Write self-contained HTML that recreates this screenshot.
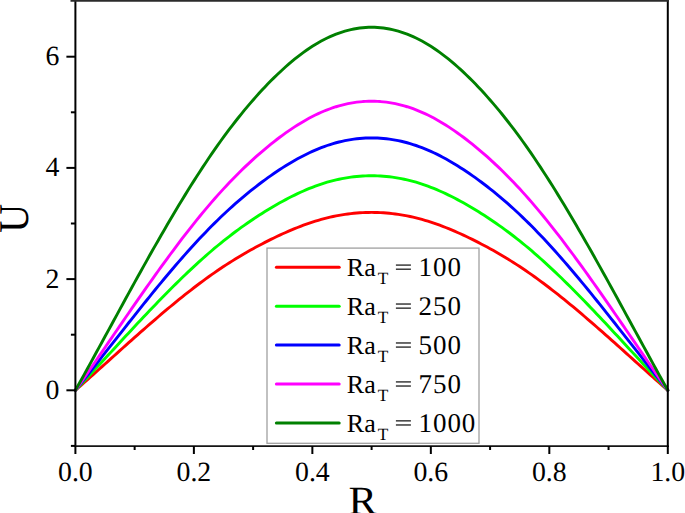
<!DOCTYPE html><html><head><meta charset="utf-8"><style>html,body{margin:0;padding:0;background:#fff;width:685px;height:513px;overflow:hidden}svg{display:block}text{font-family:"Liberation Serif",serif;fill:#000;text-rendering:geometricPrecision}</style></head><body>
<svg width="685" height="513" viewBox="0 0 685 513">
<polyline points="75.40,390.30 78.36,387.71 81.32,385.10 84.29,382.48 87.25,379.86 90.21,377.22 93.17,374.58 96.13,371.93 99.10,369.28 102.06,366.62 105.02,363.96 107.98,361.30 110.94,358.64 113.91,355.98 116.87,353.32 119.83,350.66 122.79,348.00 125.75,345.35 128.72,342.70 131.68,340.06 134.64,337.43 137.60,334.80 140.56,332.19 143.53,329.58 146.49,326.99 149.45,324.41 152.41,321.84 155.37,319.28 158.34,316.74 161.30,314.21 164.26,311.70 167.22,309.21 170.18,306.74 173.15,304.29 176.11,301.85 179.07,299.44 182.03,297.06 184.99,294.69 187.96,292.35 190.92,290.04 193.88,287.76 196.84,285.50 199.80,283.27 202.77,281.07 205.73,278.90 208.69,276.77 211.65,274.66 214.61,272.59 217.58,270.55 220.54,268.55 223.50,266.58 226.46,264.64 229.42,262.74 232.39,260.87 235.35,259.03 238.31,257.23 241.27,255.46 244.23,253.72 247.20,252.02 250.16,250.34 253.12,248.69 256.08,247.08 259.04,245.49 262.01,243.92 264.97,242.39 267.93,240.89 270.89,239.41 273.85,237.96 276.82,236.54 279.78,235.15 282.74,233.79 285.70,232.46 288.66,231.16 291.63,229.90 294.59,228.67 297.55,227.48 300.51,226.32 303.47,225.21 306.44,224.14 309.40,223.11 312.36,222.12 315.32,221.18 318.28,220.28 321.25,219.44 324.21,218.63 327.17,217.88 330.13,217.18 333.09,216.52 336.06,215.91 339.02,215.35 341.98,214.84 344.94,214.38 347.90,213.97 350.87,213.61 353.83,213.29 356.79,213.03 359.75,212.81 362.71,212.64 365.68,212.51 368.64,212.44 371.60,212.41 374.56,212.44 377.52,212.51 380.49,212.64 383.45,212.81 386.41,213.03 389.37,213.29 392.33,213.61 395.30,213.97 398.26,214.38 401.22,214.84 404.18,215.35 407.14,215.91 410.11,216.52 413.07,217.18 416.03,217.88 418.99,218.63 421.95,219.44 424.92,220.28 427.88,221.18 430.84,222.12 433.80,223.11 436.76,224.14 439.73,225.21 442.69,226.32 445.65,227.48 448.61,228.67 451.57,229.90 454.54,231.16 457.50,232.46 460.46,233.79 463.42,235.15 466.38,236.54 469.35,237.96 472.31,239.41 475.27,240.89 478.23,242.39 481.19,243.92 484.16,245.49 487.12,247.08 490.08,248.69 493.04,250.34 496.00,252.02 498.97,253.72 501.93,255.46 504.89,257.23 507.85,259.03 510.81,260.87 513.78,262.74 516.74,264.64 519.70,266.58 522.66,268.55 525.62,270.55 528.59,272.59 531.55,274.66 534.51,276.77 537.47,278.90 540.43,281.07 543.40,283.27 546.36,285.50 549.32,287.76 552.28,290.04 555.24,292.35 558.21,294.69 561.17,297.06 564.13,299.44 567.09,301.85 570.05,304.29 573.02,306.74 575.98,309.21 578.94,311.70 581.90,314.21 584.86,316.74 587.83,319.28 590.79,321.84 593.75,324.41 596.71,326.99 599.67,329.58 602.64,332.19 605.60,334.80 608.56,337.43 611.52,340.06 614.48,342.70 617.45,345.35 620.41,348.00 623.37,350.66 626.33,353.32 629.29,355.98 632.26,358.64 635.22,361.30 638.18,363.96 641.14,366.62 644.10,369.28 647.07,371.93 650.03,374.58 652.99,377.22 655.95,379.86 658.91,382.48 661.88,385.10 664.84,387.71 667.80,390.30" fill="none" stroke="#ff0000" stroke-width="2.9" stroke-linejoin="round" stroke-linecap="round"/>
<polyline points="75.40,390.30 78.36,387.17 81.32,384.03 84.29,380.87 87.25,377.70 90.21,374.53 93.17,371.34 96.13,368.14 99.10,364.94 102.06,361.74 105.02,358.53 107.98,355.32 110.94,352.11 113.91,348.90 116.87,345.69 119.83,342.48 122.79,339.28 125.75,336.08 128.72,332.89 131.68,329.70 134.64,326.52 137.60,323.36 140.56,320.20 143.53,317.06 146.49,313.93 149.45,310.81 152.41,307.71 155.37,304.63 158.34,301.56 161.30,298.52 164.26,295.49 167.22,292.48 170.18,289.50 173.15,286.54 176.11,283.60 179.07,280.69 182.03,277.81 184.99,274.96 187.96,272.13 190.92,269.34 193.88,266.58 196.84,263.85 199.80,261.15 202.77,258.49 205.73,255.87 208.69,253.28 211.65,250.73 214.61,248.22 217.58,245.75 220.54,243.32 223.50,240.93 226.46,238.58 229.42,236.27 232.39,234.00 235.35,231.77 238.31,229.58 241.27,227.43 244.23,225.32 247.20,223.25 250.16,221.21 253.12,219.21 256.08,217.25 259.04,215.33 262.01,213.43 264.97,211.58 267.93,209.76 270.89,207.98 273.85,206.23 276.82,204.52 279.78,202.85 282.74,201.21 285.70,199.62 288.66,198.06 291.63,196.55 294.59,195.08 297.55,193.66 300.51,192.28 303.47,190.96 306.44,189.68 309.40,188.45 312.36,187.28 315.32,186.16 318.28,185.09 321.25,184.08 324.21,183.13 327.17,182.23 330.13,181.39 333.09,180.61 336.06,179.89 339.02,179.22 341.98,178.61 344.94,178.07 347.90,177.57 350.87,177.14 353.83,176.77 356.79,176.45 359.75,176.19 362.71,175.98 365.68,175.84 368.64,175.75 371.60,175.71 374.56,175.75 377.52,175.84 380.49,175.98 383.45,176.19 386.41,176.45 389.37,176.77 392.33,177.14 395.30,177.57 398.26,178.07 401.22,178.61 404.18,179.22 407.14,179.89 410.11,180.61 413.07,181.39 416.03,182.23 418.99,183.13 421.95,184.08 424.92,185.09 427.88,186.16 430.84,187.28 433.80,188.45 436.76,189.68 439.73,190.96 442.69,192.28 445.65,193.66 448.61,195.08 451.57,196.55 454.54,198.06 457.50,199.62 460.46,201.21 463.42,202.85 466.38,204.52 469.35,206.23 472.31,207.98 475.27,209.76 478.23,211.58 481.19,213.43 484.16,215.33 487.12,217.25 490.08,219.21 493.04,221.21 496.00,223.25 498.97,225.32 501.93,227.43 504.89,229.58 507.85,231.77 510.81,234.00 513.78,236.27 516.74,238.58 519.70,240.93 522.66,243.32 525.62,245.75 528.59,248.22 531.55,250.73 534.51,253.28 537.47,255.87 540.43,258.49 543.40,261.15 546.36,263.85 549.32,266.58 552.28,269.34 555.24,272.13 558.21,274.96 561.17,277.81 564.13,280.69 567.09,283.60 570.05,286.54 573.02,289.50 575.98,292.48 578.94,295.49 581.90,298.52 584.86,301.56 587.83,304.63 590.79,307.71 593.75,310.81 596.71,313.93 599.67,317.06 602.64,320.20 605.60,323.36 608.56,326.52 611.52,329.70 614.48,332.89 617.45,336.08 620.41,339.28 623.37,342.48 626.33,345.69 629.29,348.90 632.26,352.11 635.22,355.32 638.18,358.53 641.14,361.74 644.10,364.94 647.07,368.14 650.03,371.34 652.99,374.53 655.95,377.70 658.91,380.87 661.88,384.03 664.84,387.17 667.80,390.30" fill="none" stroke="#00ff00" stroke-width="2.9" stroke-linejoin="round" stroke-linecap="round"/>
<polyline points="75.40,390.30 78.36,386.62 81.32,382.92 84.29,379.21 87.25,375.48 90.21,371.75 93.17,368.00 96.13,364.24 99.10,360.48 102.06,356.71 105.02,352.93 107.98,349.16 110.94,345.38 113.91,341.60 116.87,337.83 119.83,334.06 122.79,330.29 125.75,326.53 128.72,322.77 131.68,319.03 134.64,315.29 137.60,311.57 140.56,307.85 143.53,304.16 146.49,300.48 149.45,296.81 152.41,293.16 155.37,289.54 158.34,285.93 161.30,282.35 164.26,278.78 167.22,275.25 170.18,271.74 173.15,268.25 176.11,264.80 179.07,261.38 182.03,257.98 184.99,254.62 187.96,251.30 190.92,248.01 193.88,244.75 196.84,241.54 199.80,238.36 202.77,235.23 205.73,232.14 208.69,229.09 211.65,226.08 214.61,223.12 217.58,220.20 220.54,217.33 223.50,214.51 226.46,211.73 229.42,209.00 232.39,206.32 235.35,203.69 238.31,201.10 241.27,198.55 244.23,196.06 247.20,193.61 250.16,191.20 253.12,188.84 256.08,186.52 259.04,184.25 262.01,182.02 264.97,179.84 267.93,177.69 270.89,175.59 273.85,173.54 276.82,171.53 279.78,169.57 282.74,167.65 285.70,165.78 288.66,163.96 291.63,162.20 294.59,160.48 297.55,158.82 300.51,157.21 303.47,155.67 306.44,154.18 309.40,152.75 312.36,151.38 315.32,150.07 318.28,148.83 321.25,147.65 324.21,146.54 327.17,145.50 330.13,144.52 333.09,143.61 336.06,142.77 339.02,141.99 341.98,141.29 344.94,140.65 347.90,140.07 350.87,139.57 353.83,139.13 356.79,138.76 359.75,138.46 362.71,138.22 365.68,138.05 368.64,137.94 371.60,137.90 374.56,137.94 377.52,138.05 380.49,138.22 383.45,138.46 386.41,138.76 389.37,139.13 392.33,139.57 395.30,140.07 398.26,140.65 401.22,141.29 404.18,141.99 407.14,142.77 410.11,143.61 413.07,144.52 416.03,145.50 418.99,146.54 421.95,147.65 424.92,148.83 427.88,150.07 430.84,151.38 433.80,152.75 436.76,154.18 439.73,155.67 442.69,157.21 445.65,158.82 448.61,160.48 451.57,162.20 454.54,163.96 457.50,165.78 460.46,167.65 463.42,169.57 466.38,171.53 469.35,173.54 472.31,175.59 475.27,177.69 478.23,179.84 481.19,182.02 484.16,184.25 487.12,186.52 490.08,188.84 493.04,191.20 496.00,193.61 498.97,196.06 501.93,198.55 504.89,201.10 507.85,203.69 510.81,206.32 513.78,209.00 516.74,211.73 519.70,214.51 522.66,217.33 525.62,220.20 528.59,223.12 531.55,226.08 534.51,229.09 537.47,232.14 540.43,235.23 543.40,238.36 546.36,241.54 549.32,244.75 552.28,248.01 555.24,251.30 558.21,254.62 561.17,257.98 564.13,261.38 567.09,264.80 570.05,268.25 573.02,271.74 575.98,275.25 578.94,278.78 581.90,282.35 584.86,285.93 587.83,289.54 590.79,293.16 593.75,296.81 596.71,300.48 599.67,304.16 602.64,307.85 605.60,311.57 608.56,315.29 611.52,319.03 614.48,322.77 617.45,326.53 620.41,330.29 623.37,334.06 626.33,337.83 629.29,341.60 632.26,345.38 635.22,349.16 638.18,352.93 641.14,356.71 644.10,360.48 647.07,364.24 650.03,368.00 652.99,371.75 655.95,375.48 658.91,379.21 661.88,382.92 664.84,386.62 667.80,390.30" fill="none" stroke="#0000ff" stroke-width="2.9" stroke-linejoin="round" stroke-linecap="round"/>
<polyline points="75.40,390.30 78.36,386.08 81.32,381.85 84.29,377.60 87.25,373.33 90.21,369.05 93.17,364.76 96.13,360.45 99.10,356.14 102.06,351.82 105.02,347.50 107.98,343.18 110.94,338.85 113.91,334.52 116.87,330.20 119.83,325.88 122.79,321.56 125.75,317.25 128.72,312.95 131.68,308.66 134.64,304.39 137.60,300.12 140.56,295.87 143.53,291.63 146.49,287.42 149.45,283.22 152.41,279.04 155.37,274.89 158.34,270.76 161.30,266.65 164.26,262.57 167.22,258.52 170.18,254.50 173.15,250.51 176.11,246.55 179.07,242.63 182.03,238.74 184.99,234.89 187.96,231.08 190.92,227.30 193.88,223.58 196.84,219.89 199.80,216.25 202.77,212.65 205.73,209.10 208.69,205.60 211.65,202.15 214.61,198.75 217.58,195.40 220.54,192.11 223.50,188.86 226.46,185.67 229.42,182.54 232.39,179.45 235.35,176.42 238.31,173.45 241.27,170.53 244.23,167.66 247.20,164.84 250.16,162.07 253.12,159.36 256.08,156.70 259.04,154.09 262.01,151.53 264.97,149.02 267.93,146.57 270.89,144.16 273.85,141.81 276.82,139.51 279.78,137.27 282.74,135.08 285.70,132.94 288.66,130.87 291.63,128.85 294.59,126.90 297.55,125.00 300.51,123.17 303.47,121.41 306.44,119.72 309.40,118.09 312.36,116.53 315.32,115.05 318.28,113.64 321.25,112.30 324.21,111.04 327.17,109.85 330.13,108.74 333.09,107.70 336.06,106.74 339.02,105.86 341.98,105.06 344.94,104.33 347.90,103.68 350.87,103.10 353.83,102.60 356.79,102.18 359.75,101.84 362.71,101.57 365.68,101.37 368.64,101.25 371.60,101.21 374.56,101.25 377.52,101.37 380.49,101.57 383.45,101.84 386.41,102.18 389.37,102.60 392.33,103.10 395.30,103.68 398.26,104.33 401.22,105.06 404.18,105.86 407.14,106.74 410.11,107.70 413.07,108.74 416.03,109.85 418.99,111.04 421.95,112.30 424.92,113.64 427.88,115.05 430.84,116.53 433.80,118.09 436.76,119.72 439.73,121.41 442.69,123.17 445.65,125.00 448.61,126.90 451.57,128.85 454.54,130.87 457.50,132.94 460.46,135.08 463.42,137.27 466.38,139.51 469.35,141.81 472.31,144.16 475.27,146.57 478.23,149.02 481.19,151.53 484.16,154.09 487.12,156.70 490.08,159.36 493.04,162.07 496.00,164.84 498.97,167.66 501.93,170.53 504.89,173.45 507.85,176.42 510.81,179.45 513.78,182.54 516.74,185.67 519.70,188.86 522.66,192.11 525.62,195.40 528.59,198.75 531.55,202.15 534.51,205.60 537.47,209.10 540.43,212.65 543.40,216.25 546.36,219.89 549.32,223.58 552.28,227.30 555.24,231.08 558.21,234.89 561.17,238.74 564.13,242.63 567.09,246.55 570.05,250.51 573.02,254.50 575.98,258.52 578.94,262.57 581.90,266.65 584.86,270.76 587.83,274.89 590.79,279.04 593.75,283.22 596.71,287.42 599.67,291.63 602.64,295.87 605.60,300.12 608.56,304.39 611.52,308.66 614.48,312.95 617.45,317.25 620.41,321.56 623.37,325.88 626.33,330.20 629.29,334.52 632.26,338.85 635.22,343.18 638.18,347.50 641.14,351.82 644.10,356.14 647.07,360.45 650.03,364.76 652.99,369.05 655.95,373.33 658.91,377.60 661.88,381.85 664.84,386.08 667.80,390.30" fill="none" stroke="#ff00ff" stroke-width="2.9" stroke-linejoin="round" stroke-linecap="round"/>
<polyline points="75.40,390.30 78.36,385.01 81.32,379.69 84.29,374.35 87.25,368.99 90.21,363.61 93.17,358.22 96.13,352.82 99.10,347.41 102.06,341.98 105.02,336.56 107.98,331.12 110.94,325.69 113.91,320.26 116.87,314.83 119.83,309.40 122.79,303.98 125.75,298.57 128.72,293.17 131.68,287.78 134.64,282.41 137.60,277.05 140.56,271.72 143.53,266.40 146.49,261.10 149.45,255.83 152.41,250.58 155.37,245.37 158.34,240.18 161.30,235.02 164.26,229.90 167.22,224.81 170.18,219.76 173.15,214.74 176.11,209.77 179.07,204.84 182.03,199.96 184.99,195.12 187.96,190.33 190.92,185.58 193.88,180.89 196.84,176.26 199.80,171.68 202.77,167.15 205.73,162.69 208.69,158.28 211.65,153.93 214.61,149.65 217.58,145.43 220.54,141.27 223.50,137.18 226.46,133.16 229.42,129.20 232.39,125.31 235.35,121.49 238.31,117.73 241.27,114.04 244.23,110.42 247.20,106.86 250.16,103.38 253.12,99.96 256.08,96.60 259.04,93.31 262.01,90.09 264.97,86.93 267.93,83.85 270.89,80.83 273.85,77.87 276.82,74.99 279.78,72.18 282.74,69.44 285.70,66.77 288.66,64.18 291.63,61.66 294.59,59.22 297.55,56.86 300.51,54.58 303.47,52.39 306.44,50.28 309.40,48.25 312.36,46.32 315.32,44.47 318.28,42.72 321.25,41.06 324.21,39.49 327.17,38.01 330.13,36.63 333.09,35.34 336.06,34.15 339.02,33.05 341.98,32.05 344.94,31.14 347.90,30.33 350.87,29.61 353.83,28.99 356.79,28.47 359.75,28.04 362.71,27.70 365.68,27.46 368.64,27.31 371.60,27.26 374.56,27.31 377.52,27.46 380.49,27.70 383.45,28.04 386.41,28.47 389.37,28.99 392.33,29.61 395.30,30.33 398.26,31.14 401.22,32.05 404.18,33.05 407.14,34.15 410.11,35.34 413.07,36.63 416.03,38.01 418.99,39.49 421.95,41.06 424.92,42.72 427.88,44.47 430.84,46.32 433.80,48.25 436.76,50.28 439.73,52.39 442.69,54.58 445.65,56.86 448.61,59.22 451.57,61.66 454.54,64.18 457.50,66.77 460.46,69.44 463.42,72.18 466.38,74.99 469.35,77.87 472.31,80.83 475.27,83.85 478.23,86.93 481.19,90.09 484.16,93.31 487.12,96.60 490.08,99.96 493.04,103.38 496.00,106.86 498.97,110.42 501.93,114.04 504.89,117.73 507.85,121.49 510.81,125.31 513.78,129.20 516.74,133.16 519.70,137.18 522.66,141.27 525.62,145.43 528.59,149.65 531.55,153.93 534.51,158.28 537.47,162.69 540.43,167.15 543.40,171.68 546.36,176.26 549.32,180.89 552.28,185.58 555.24,190.33 558.21,195.12 561.17,199.96 564.13,204.84 567.09,209.77 570.05,214.74 573.02,219.76 575.98,224.81 578.94,229.90 581.90,235.02 584.86,240.18 587.83,245.37 590.79,250.58 593.75,255.83 596.71,261.10 599.67,266.40 602.64,271.72 605.60,277.05 608.56,282.41 611.52,287.78 614.48,293.17 617.45,298.57 620.41,303.98 623.37,309.40 626.33,314.83 629.29,320.26 632.26,325.69 635.22,331.12 638.18,336.56 641.14,341.98 644.10,347.41 647.07,352.82 650.03,358.22 652.99,363.61 655.95,368.99 658.91,374.35 661.88,379.69 664.84,385.01 667.80,390.30" fill="none" stroke="#008000" stroke-width="2.9" stroke-linejoin="round" stroke-linecap="round"/>
<line x1="75.4" y1="0" x2="75.4" y2="447" stroke="#000" stroke-width="2"/>
<line x1="74.4" y1="446.1" x2="668.8" y2="446.1" stroke="#151515" stroke-width="1.8"/>
<line x1="667.8" y1="0" x2="667.8" y2="447" stroke="#000" stroke-width="2"/>
<rect x="70.5" y="0" width="598.30" height="1.75" fill="#2b2b2b"/>
<line x1="75.40" y1="446" x2="75.40" y2="454" stroke="#000" stroke-width="2"/>
<text x="75.40" y="481.0" font-size="27.8" text-anchor="middle">0.0</text>
<line x1="134.64" y1="446" x2="134.64" y2="450" stroke="#000" stroke-width="2"/>
<line x1="193.88" y1="446" x2="193.88" y2="454" stroke="#000" stroke-width="2"/>
<text x="193.88" y="481.0" font-size="27.8" text-anchor="middle">0.2</text>
<line x1="253.12" y1="446" x2="253.12" y2="450" stroke="#000" stroke-width="2"/>
<line x1="312.36" y1="446" x2="312.36" y2="454" stroke="#000" stroke-width="2"/>
<text x="312.36" y="481.0" font-size="27.8" text-anchor="middle">0.4</text>
<line x1="371.60" y1="446" x2="371.60" y2="450" stroke="#000" stroke-width="2"/>
<line x1="430.84" y1="446" x2="430.84" y2="454" stroke="#000" stroke-width="2"/>
<text x="430.84" y="481.0" font-size="27.8" text-anchor="middle">0.6</text>
<line x1="490.08" y1="446" x2="490.08" y2="450" stroke="#000" stroke-width="2"/>
<line x1="549.32" y1="446" x2="549.32" y2="454" stroke="#000" stroke-width="2"/>
<text x="549.32" y="481.0" font-size="27.8" text-anchor="middle">0.8</text>
<line x1="608.56" y1="446" x2="608.56" y2="450" stroke="#000" stroke-width="2"/>
<line x1="667.80" y1="446" x2="667.80" y2="454" stroke="#000" stroke-width="2"/>
<text x="667.80" y="481.0" font-size="27.8" text-anchor="middle">1.0</text>
<line x1="75.4" y1="445.90" x2="70.9" y2="445.90" stroke="#000" stroke-width="2"/>
<line x1="75.4" y1="390.30" x2="66.4" y2="390.30" stroke="#000" stroke-width="2"/>
<text x="59.5" y="398.80" font-size="27.8" text-anchor="end">0</text>
<line x1="75.4" y1="334.70" x2="70.9" y2="334.70" stroke="#000" stroke-width="2"/>
<line x1="75.4" y1="279.10" x2="66.4" y2="279.10" stroke="#000" stroke-width="2"/>
<text x="59.5" y="287.60" font-size="27.8" text-anchor="end">2</text>
<line x1="75.4" y1="223.50" x2="70.9" y2="223.50" stroke="#000" stroke-width="2"/>
<line x1="75.4" y1="167.90" x2="66.4" y2="167.90" stroke="#000" stroke-width="2"/>
<text x="59.5" y="176.40" font-size="27.8" text-anchor="end">4</text>
<line x1="75.4" y1="112.30" x2="70.9" y2="112.30" stroke="#000" stroke-width="2"/>
<line x1="75.4" y1="56.70" x2="66.4" y2="56.70" stroke="#000" stroke-width="2"/>
<text x="59.5" y="65.20" font-size="27.8" text-anchor="end">6</text>
<text transform="translate(362.8,514.2) scale(1.065,1)" x="0" y="0" font-size="40" text-anchor="middle">R</text>
<text transform="translate(27.6,218.2) scale(1.06,1) rotate(-90)" x="0" y="0" font-size="40" text-anchor="middle">U</text>
<rect x="267.0" y="248.1" width="212.0" height="195.20000000000002" fill="#fff" stroke="#a0a0a0" stroke-width="1.3"/>
<line x1="276.4" y1="267.20" x2="339.2" y2="267.20" stroke="#ff0000" stroke-width="3" stroke-linecap="round"/>
<text x="346.8" y="275.80" font-size="26">Ra</text>
<text x="377.7" y="284.40" font-size="17.3">T</text>
<rect x="395.9" y="264.50" width="15" height="1.15" fill="#000"/><rect x="395.9" y="268.60" width="15" height="1.15" fill="#000"/>
<text x="418.6" y="275.80" font-size="27" letter-spacing="0.9">100</text>
<line x1="276.4" y1="306.15" x2="339.2" y2="306.15" stroke="#00ff00" stroke-width="3" stroke-linecap="round"/>
<text x="346.8" y="314.75" font-size="26">Ra</text>
<text x="377.7" y="323.35" font-size="17.3">T</text>
<rect x="395.9" y="303.45" width="15" height="1.15" fill="#000"/><rect x="395.9" y="307.55" width="15" height="1.15" fill="#000"/>
<text x="418.6" y="314.75" font-size="27" letter-spacing="0.9">250</text>
<line x1="276.4" y1="345.10" x2="339.2" y2="345.10" stroke="#0000ff" stroke-width="3" stroke-linecap="round"/>
<text x="346.8" y="353.70" font-size="26">Ra</text>
<text x="377.7" y="362.30" font-size="17.3">T</text>
<rect x="395.9" y="342.40" width="15" height="1.15" fill="#000"/><rect x="395.9" y="346.50" width="15" height="1.15" fill="#000"/>
<text x="418.6" y="353.70" font-size="27" letter-spacing="0.9">500</text>
<line x1="276.4" y1="384.05" x2="339.2" y2="384.05" stroke="#ff00ff" stroke-width="3" stroke-linecap="round"/>
<text x="346.8" y="392.65" font-size="26">Ra</text>
<text x="377.7" y="401.25" font-size="17.3">T</text>
<rect x="395.9" y="381.35" width="15" height="1.15" fill="#000"/><rect x="395.9" y="385.45" width="15" height="1.15" fill="#000"/>
<text x="418.6" y="392.65" font-size="27" letter-spacing="0.9">750</text>
<line x1="276.4" y1="423.00" x2="339.2" y2="423.00" stroke="#008000" stroke-width="3" stroke-linecap="round"/>
<text x="346.8" y="431.60" font-size="26">Ra</text>
<text x="377.7" y="440.20" font-size="17.3">T</text>
<rect x="395.9" y="420.30" width="15" height="1.15" fill="#000"/><rect x="395.9" y="424.40" width="15" height="1.15" fill="#000"/>
<text x="418.6" y="431.60" font-size="27" letter-spacing="0.9">1000</text>
</svg></body></html>
